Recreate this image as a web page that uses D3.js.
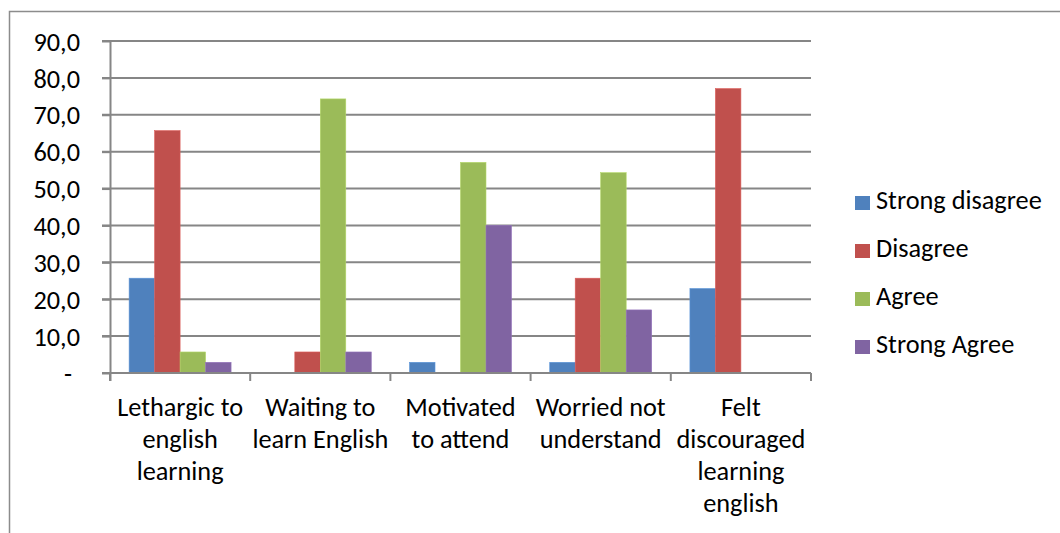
<!DOCTYPE html>
<html>
<head>
<meta charset="utf-8">
<script src="https://cdn.jsdelivr.net/npm/d3@7"></script>
<style>
  html, body { margin: 0; padding: 0; background: #fff; }
  svg { display: block; }
  text { font-family: Calibri, Carlito, Lato, "Open Sans", sans-serif; fill: #000; }
</style>
</head>
<body>
<svg id="chart" width="1060" height="533"></svg>
<script>
// ---- data ----
const categories = [
  ["Lethargic to", "english", "learning"],
  ["Waiting to", "learn English"],
  ["Motivated", "to attend"],
  ["Worried not", "understand"],
  ["Felt", "discouraged", "learning", "english"]
];
const seriesNames = ["Strong disagree", "Disagree", "Agree", "Strong Agree"];
const strongDisagree = [25.7, 0.0, 2.9, 2.9, 22.9];
const disagree       = [65.7, 5.7, 0.0, 25.7, 77.1];
const agree          = [5.7, 74.3, 57.1, 54.3, 0.0];
const strongAgree    = [2.9, 5.7, 40.0, 17.1, 0.0];
const yTicks = [0, 10, 20, 30, 40, 50, 60, 70, 80, 90];
const yTickLabels = ["-", "10,0", "20,0", "30,0", "40,0", "50,0", "60,0", "70,0", "80,0", "90,0"];

const seriesValues = [strongDisagree, disagree, agree, strongAgree];
const colors = ["#4F81BD", "#C0504D", "#9BBB59", "#8064A2"];

// ---- layout ----
const svg = d3.select("#chart");
const plot = { left: 110, right: 811, top: 41, bottom: 373 };
const fontSize = 26.3;
const gridColor = "#868686";

// outer border
svg.append("rect")
  .attr("x", 9.5).attr("y", 11.5)
  .attr("width", 1200).attr("height", 700)
  .attr("fill", "none").attr("stroke", "#8c8c8c").attr("stroke-width", 1.5);

const catIdx = categories.map((d, i) => i);
const x0 = d3.scaleBand().domain(catIdx).range([plot.left, plot.right]).paddingInner(0).paddingOuter(0);
const bw = x0.bandwidth();
const gap = bw * 1.5 / 5.5;
const x1 = d3.scaleBand().domain(d3.range(seriesNames.length)).range([gap / 2, bw - gap / 2]).padding(0);
const y = d3.scaleLinear().domain([0, 90]).range([plot.bottom, plot.top]);

// gridlines
svg.append("g")
  .selectAll("line")
  .data(yTicks.filter(t => t > 0))
  .join("line")
  .attr("x1", plot.left - 8).attr("x2", plot.right)
  .attr("y1", d => y(d)).attr("y2", d => y(d))
  .attr("stroke", gridColor).attr("stroke-width", 2);

// bars
const groups = svg.append("g")
  .selectAll("g")
  .data(catIdx)
  .join("g")
  .attr("transform", i => `translate(${x0(i)},0)`);

groups.selectAll("rect")
  .data(i => seriesValues.map((vals, s) => ({ s, v: vals[i] })))
  .join("rect")
  .attr("x", d => x1(d.s))
  .attr("width", x1.bandwidth())
  .attr("y", d => y(d.v))
  .attr("height", d => y(0) - y(d.v))
  .attr("fill", d => colors[d.s])
  .attr("stroke", d => d3.color(colors[d.s]).brighter(0.4))
  .attr("stroke-width", 0.6);

// y axis
const yAxis = d3.axisLeft(y)
  .tickValues(yTicks)
  .tickSize(8)
  .tickFormat((d, i) => yTickLabels[i]);
const yg = svg.append("g").attr("transform", `translate(${plot.left},0)`).call(yAxis);
yg.select(".domain").attr("stroke", gridColor).attr("stroke-width", 2)
  .attr("d", `M0.5,${plot.top}V${plot.bottom + 8}`);
yg.selectAll(".tick line").attr("stroke", gridColor).attr("stroke-width", 2);
yg.selectAll(".tick text")
  .attr("x", d => d === 0 ? -38 : -30)
  .attr("dy", "0.35em")
  .style("font-size", fontSize + "px")
  .style("font-family", "Calibri, Carlito, Lato, sans-serif")
  .attr("fill", "#000");

// x axis
const xTickPos = catIdx.map(i => x0(i)).concat([plot.right]);
svg.append("line")
  .attr("x1", plot.left - 8).attr("x2", plot.right)
  .attr("y1", plot.bottom).attr("y2", plot.bottom)
  .attr("stroke", gridColor).attr("stroke-width", 2);
svg.append("g").selectAll("line")
  .data(xTickPos)
  .join("line")
  .attr("x1", d => d).attr("x2", d => d)
  .attr("y1", plot.bottom).attr("y2", plot.bottom + 8)
  .attr("stroke", gridColor).attr("stroke-width", 2);

// category labels
const lineH = 32;
const labels = svg.append("g").selectAll("text")
  .data(catIdx)
  .join("text")
  .attr("text-anchor", "middle")
  .style("font-size", fontSize + "px")
  .attr("transform", i => `translate(${x0(i) + bw / 2},416)`);
labels.selectAll("tspan")
  .data(i => categories[i])
  .join("tspan")
  .attr("x", 0)
  .attr("y", (d, j) => j * lineH)
  .text(d => d);

// legend
const legend = svg.append("g").attr("transform", "translate(855,209)");
const items = legend.selectAll("g")
  .data(seriesNames)
  .join("g")
  .attr("transform", (d, i) => `translate(0,${i * 48})`);
items.append("rect")
  .attr("x", 0).attr("y", -13)
  .attr("width", 15).attr("height", 14)
  .attr("fill", (d, i) => colors[i]);
items.append("text")
  .attr("x", 21).attr("y", 0)
  .style("font-size", fontSize + "px")
  .text(d => d);
</script>
</body>
</html>
